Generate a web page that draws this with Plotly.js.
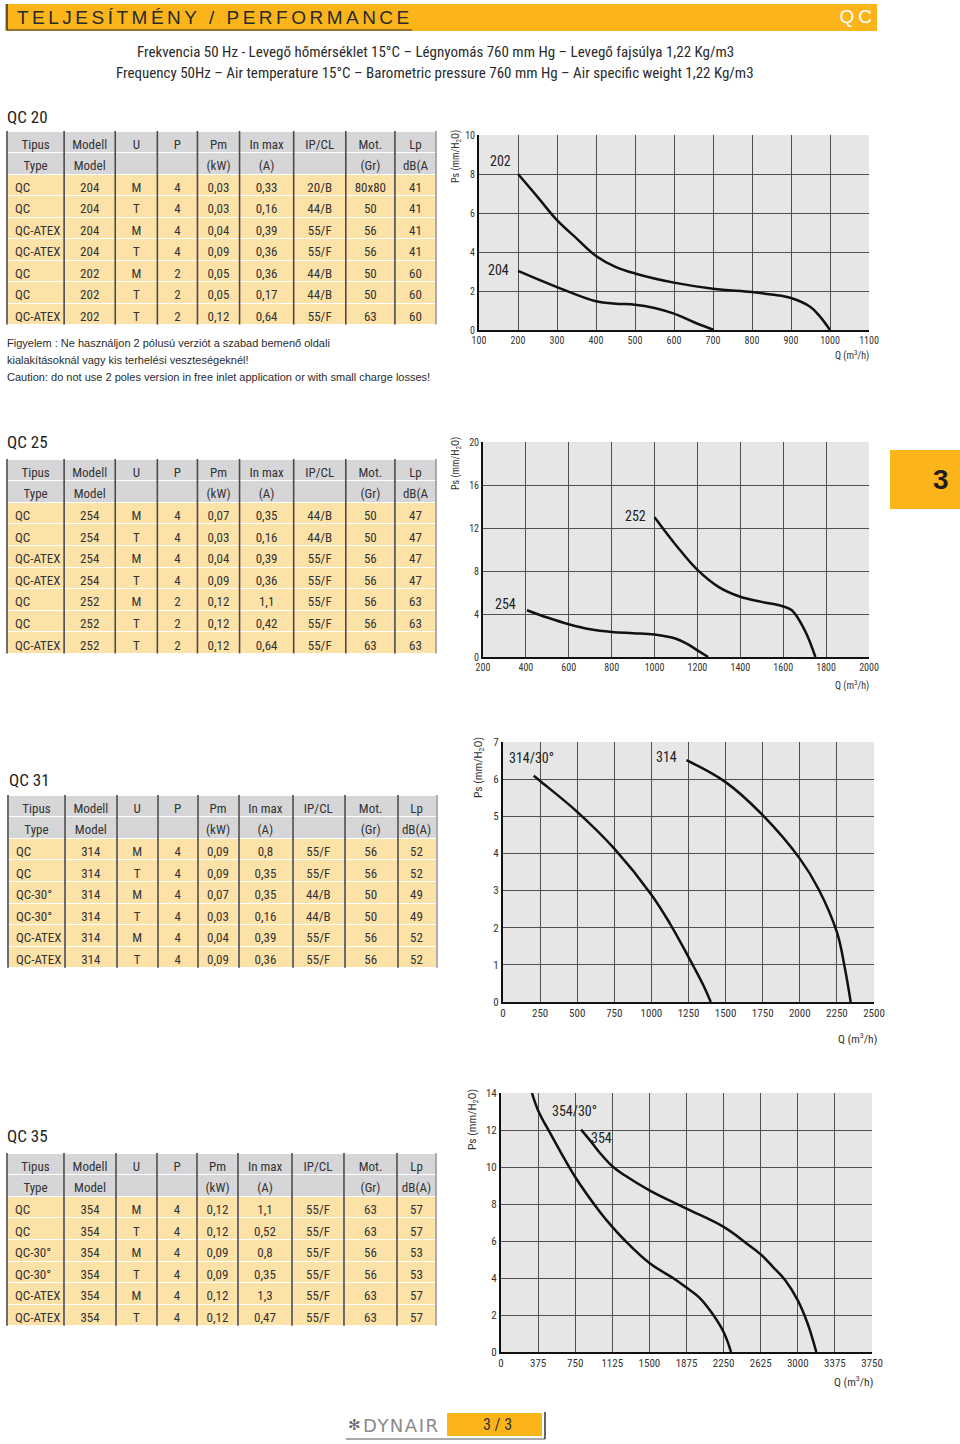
<!DOCTYPE html>
<html><head><meta charset="utf-8">
<script src="https://cdn.plot.ly/plotly-3.0.1.min.js"></script>
<style>
html,body{margin:0;padding:0;background:#fff;}
.annotation[data-index="0"] text{letter-spacing:3.5px;}
.annotation[data-index="1"] text{letter-spacing:4px;}
.annotation[data-index="29"] text{letter-spacing:1.5px;}
</style>
</head><body>
<div id="chart" style="width:960px;height:1444px;"></div>
<script>
// ---------- data ----------
const headTop = ["Tipus","Modell","U","P","Pm","In max","IP/CL","Mot.","Lp"];
const headBotA = ["Type","Model","","","(kW)","(A)","","(Gr)","dB(A"];
const headBotB = ["Type","Model","","","(kW)","(A)","","(Gr)","dB(A)"];

const rowsQC20 = [
 ["QC","204","M","4","0,03","0,33","20/B","80x80","41"],
 ["QC","204","T","4","0,03","0,16","44/B","50","41"],
 ["QC-ATEX","204","M","4","0,04","0,39","55/F","56","41"],
 ["QC-ATEX","204","T","4","0,09","0,36","55/F","56","41"],
 ["QC","202","M","2","0,05","0,36","44/B","50","60"],
 ["QC","202","T","2","0,05","0,17","44/B","50","60"],
 ["QC-ATEX","202","T","2","0,12","0,64","55/F","63","60"]
];
const rowsQC25 = [
 ["QC","254","M","4","0,07","0,35","44/B","50","47"],
 ["QC","254","T","4","0,03","0,16","44/B","50","47"],
 ["QC-ATEX","254","M","4","0,04","0,39","55/F","56","47"],
 ["QC-ATEX","254","T","4","0,09","0,36","55/F","56","47"],
 ["QC","252","M","2","0,12","1,1","55/F","56","63"],
 ["QC","252","T","2","0,12","0,42","55/F","56","63"],
 ["QC-ATEX","252","T","2","0,12","0,64","55/F","63","63"]
];
const rowsQC31 = [
 ["QC","314","M","4","0,09","0,8","55/F","56","52"],
 ["QC","314","T","4","0,09","0,35","55/F","56","52"],
 ["QC-30°","314","M","4","0,07","0,35","44/B","50","49"],
 ["QC-30°","314","T","4","0,03","0,16","44/B","50","49"],
 ["QC-ATEX","314","M","4","0,04","0,39","55/F","56","52"],
 ["QC-ATEX","314","T","4","0,09","0,36","55/F","56","52"]
];
const rowsQC35 = [
 ["QC","354","M","4","0,12","1,1","55/F","63","57"],
 ["QC","354","T","4","0,12","0,52","55/F","63","57"],
 ["QC-30°","354","M","4","0,09","0,8","55/F","56","53"],
 ["QC-30°","354","T","4","0,09","0,35","55/F","56","53"],
 ["QC-ATEX","354","M","4","0,12","1,3","55/F","63","57"],
 ["QC-ATEX","354","T","4","0,12","0,47","55/F","63","57"]
];

// performance curves (Q m3/h, Ps mmH2O)
const q202  = [200,250,300,350,400,450,500,600,700,800,850,900,950,975,1000];
const ps202 = [8.0,6.83,5.63,4.7,3.8,3.24,2.9,2.43,2.12,1.95,1.82,1.64,1.18,0.67,0];
const q204  = [200,300,400,450,500,550,600,650,702];
const ps204 = [3.03,2.2,1.47,1.35,1.3,1.13,0.84,0.41,0];

const q252  = [1000,1100,1200,1300,1400,1500,1600,1640,1700,1750];
const ps252 = [13,10.4,8.1,6.5,5.6,5.13,4.7,4.35,2.5,0];
const q254  = [405,500,600,700,800,900,1000,1100,1150,1200,1250];
const ps254 = [4.35,3.67,3.05,2.58,2.33,2.22,2.1,1.7,1.24,0.62,0];

const q314_30  = [207,250,500,750,1000,1125,1250,1350,1400];
const ps314_30 = [6.09,5.95,5.12,4.13,2.89,2.11,1.21,0.45,0];
const q314  = [1236,1500,1750,2000,2125,2250,2300,2343];
const ps314 = [6.51,5.92,5.03,3.86,3.05,1.88,0.99,0];

const q354_30  = [313,375,500,750,1000,1125,1250,1500,1750,1875,2000,2125,2250,2325];
const ps354_30 = [14,13.06,11.8,9.46,7.57,6.76,6.04,4.81,3.96,3.48,2.97,2.16,1.08,0];
const q354  = [809,900,1000,1125,1250,1500,1875,2250,2500,2625,2750,2875,3000,3100,3187];
const ps354 = [12.02,11.44,10.76,10.04,9.55,8.74,7.75,6.76,5.8,5.28,4.59,3.87,2.79,1.53,0];

const ticks1x = [100,200,300,400,500,600,700,800,900,1000,1100];
const ticks1y = [0,2,4,6,8,10];
const ticks2x = [200,400,600,800,1000,1200,1400,1600,1800,2000];
const ticks2y = [0,4,8,12,16,20];
const ticks3x = [0,250,500,750,1000,1250,1500,1750,2000,2250,2500];
const ticks3y = [0,1,2,3,4,5,6,7];
const ticks4x = [0,375,750,1125,1500,1875,2250,2625,3000,3375,3750];
const ticks4y = [0,2,4,6,8,10,12,14];

// ---------- helpers ----------
const W = 960, H = 1444;
const fx = p => p / W;
const fy = p => 1 - p / H;
const NARROW = "'Liberation Sans Narrow','Arial Narrow','Roboto Condensed','DejaVu Sans Condensed',sans-serif";
const SANS = "'Liberation Sans',Arial,sans-serif";
const TXT = '#2b2b2b';
const YELLOW = '#fbb51b';

const traces = [];
const shapes = [];
const annotations = [];

function ann(o){ annotations.push(Object.assign({showarrow:false, xref:'paper', yref:'paper'}, o)); }

// header bar
shapes.push({type:'rect', xref:'paper', yref:'paper', x0:fx(5), x1:fx(877), y0:fy(31), y1:fy(4), fillcolor:YELLOW, line:{width:0}, layer:'below'});
shapes.push({type:'line', xref:'paper', yref:'paper', x0:fx(7), x1:fx(7), y0:fy(30), y1:fy(4), line:{color:'#333', width:1.5}});
shapes.push({type:'line', xref:'paper', yref:'paper', x0:fx(7), x1:fx(412), y0:fy(30), y1:fy(30), line:{color:'#333', width:1}});
ann({text:'TELJESÍTMÉNY / PERFORMANCE', x:fx(15), y:fy(18), xanchor:'left', yanchor:'middle', width:420, align:'left', font:{family:SANS, size:19, color:'#2a2a2a'}});
ann({text:'QC', x:fx(878), y:fy(16), xanchor:'right', yanchor:'middle', width:50, align:'right', font:{family:SANS, size:19, color:'#ffffff'}});

ann({text:'Frekvencia 50 Hz - Levegő hőmérséklet 15°C – Légnyomás 760 mm Hg – Levegő fajsúlya 1,22 Kg/m3', x:fx(435), y:fy(52), xanchor:'center', yanchor:'middle', font:{family:NARROW, size:15, color:TXT}});
ann({text:'Frequency 50Hz – Air temperature 15°C – Barometric pressure 760 mm Hg – Air specific weight 1,22 Kg/m3', x:fx(435), y:fy(73), xanchor:'center', yanchor:'middle', font:{family:NARROW, size:15, color:TXT}});

// section titles
ann({text:'QC 20', x:fx(5), y:fy(117), xanchor:'left', yanchor:'middle', font:{family:NARROW, size:17, color:'#222'}});
ann({text:'QC 25', x:fx(5), y:fy(442), xanchor:'left', yanchor:'middle', font:{family:NARROW, size:17, color:'#222'}});
ann({text:'QC 31', x:fx(7), y:fy(780), xanchor:'left', yanchor:'middle', font:{family:NARROW, size:17, color:'#222'}});
ann({text:'QC 35', x:fx(5), y:fy(1136), xanchor:'left', yanchor:'middle', font:{family:NARROW, size:17, color:'#222'}});

// notes
ann({text:'Figyelem : Ne használjon 2 pólusú verziót a szabad bemenő oldali', x:fx(5), y:fy(343), xanchor:'left', yanchor:'middle', font:{family:SANS, size:11, color:TXT}});
ann({text:'kialakításoknál vagy kis terhelési veszteségeknél!', x:fx(5), y:fy(360), xanchor:'left', yanchor:'middle', font:{family:SANS, size:11, color:TXT}});
ann({text:'Caution: do not use 2 poles version in free inlet application or with small charge losses!', x:fx(5), y:fy(377), xanchor:'left', yanchor:'middle', font:{family:SANS, size:11, color:TXT}});

// ---------- tables ----------
function addTable(rows, headBot, left, right, top, rowH, colW){
  const ncol = headTop.length;
  const cols = [];
  for(let c=0;c<ncol;c++) cols.push(rows.map(r=>r[c]));
  const header = [];
  for(let c=0;c<ncol;c++) header.push([headTop[c], headBot[c]]);
  const nRows = rows.length + 2;
  const bottom = top + nRows*rowH;
  traces.push({
    type:'table',
    domain:{x:[fx(left), fx(right)], y:[fy(bottom+8), fy(top)]},
    columnwidth: colW,
    header:{values:header, height:rowH, align:'center',
      fill:{color:'#d6d6d8'}, line:{color:'#ffffff', width:1},
      font:{family:NARROW, size:13, color:'#333'}},
    cells:{values:cols, height:rowH, align:['left','center','center','center','center','center','center','center','center'],
      fill:{color:'#fde2a8'}, line:{color:'#ffffff', width:1},
      font:{family:NARROW, size:13, color:'#333'}}
  });
  const tot = colW.reduce((a,b)=>a+b,0);
  let acc = 0;
  const xs = [left];
  for(let c=0;c<ncol;c++){ acc += colW[c]; xs.push(left + (right-left)*acc/tot); }
  xs.forEach((x,i)=>{
    shapes.push({type:'line', xref:'paper', yref:'paper', x0:fx(x), x1:fx(x), y0:fy(bottom), y1:fy(top),
      line:{color:(i===xs.length-1)?'#9a9a9a':'#4a4a4a', width:1.6}});
  });
}
const colWA = [57,51,42,40,42,54,52,49,41];
const colWB = [57,52,41,40,41,54,52,53,39];
addTable(rowsQC20, headBotA, 7, 436, 131, 21.5, colWA);
addTable(rowsQC25, headBotA, 7, 436, 459, 21.6, colWA);
addTable(rowsQC31, headBotB, 8, 437, 795, 21.6, colWB);
addTable(rowsQC35, headBotB, 7, 436, 1153, 21.6, colWB);

// ---------- charts ----------
const LINE = {color:'#111', width:2.5, shape:'spline', smoothing:1.1};
function addCurve(x, y, n){
  traces.push({type:'scatter', mode:'lines', x:x, y:y, xaxis:'x'+(n>1?n:''), yaxis:'y'+(n>1?n:''), line:LINE, hoverinfo:'skip', showlegend:false, cliponaxis:false});
}
addCurve(q202, ps202, 1); addCurve(q204, ps204, 1);
addCurve(q252, ps252, 2); addCurve(q254, ps254, 2);
addCurve(q314_30, ps314_30, 3); addCurve(q314, ps314, 3);
addCurve(q354_30, ps354_30, 4); addCurve(q354, ps354, 4);

function xax(dom, anchor, range, tv, fs){
  return {domain:[fx(dom[0]), fx(dom[1])], anchor:anchor, range:range, tickvals:tv, ticktext:tv.map(String),
    showgrid:true, gridcolor:'#505050', gridwidth:1, showline:true, linecolor:'#111', linewidth:2,
    zeroline:false, ticks:'', ticklen:0, tickfont:{family:NARROW, size:fs, color:'#333'}, fixedrange:true};
}
function yax(dom, anchor, range, tv, fs){
  return {domain:[fy(dom[1]), fy(dom[0])], anchor:anchor, range:range, tickvals:tv, ticktext:tv.map(String),
    showgrid:true, gridcolor:'#505050', gridwidth:1, showline:true, linecolor:'#111', linewidth:2,
    zeroline:false, ticks:'', ticklen:0, tickfont:{family:NARROW, size:fs, color:'#333'}, fixedrange:true};
}

function chartLabels(n, ytX, ytY, xtX, xtY, fs){
  ann({text:'Ps (mm/H<sub>2</sub>O)', x:fx(ytX), y:fy(ytY), textangle:-90, xanchor:'center', yanchor:'middle', font:{family:NARROW, size:fs, color:'#333'}});
  ann({text:'Q (m<sup>3</sup>/h)', x:fx(xtX), y:fy(xtY), xanchor:'center', yanchor:'middle', font:{family:NARROW, size:fs, color:'#333'}});
}
function curveLabel(n, x, y, t){
  annotations.push({text:t, x:x, y:y, xref:'x'+(n>1?n:''), yref:'y'+(n>1?n:''), showarrow:false, xanchor:'center', yanchor:'middle', font:{family:NARROW, size:14, color:'#222'}});
}

chartLabels(1, 456, 157, 852, 356, 10);
chartLabels(2, 456, 464, 852, 685, 10);
chartLabels(3, 478, 768, 857, 1038, 11.5);
chartLabels(4, 472, 1120, 853, 1381, 11.5);

curveLabel(1, 154, 8.67, '202');
curveLabel(1, 150, 3.1, '204');
curveLabel(2, 909, 13.1, '252');
curveLabel(2, 303, 4.93, '254');
curveLabel(3, 195, 6.57, '314/30°');
curveLabel(3, 1105, 6.6, '314');
curveLabel(4, 738, 13.03, '354/30°');
curveLabel(4, 1011, 11.57, '354');

// right tab
shapes.push({type:'rect', xref:'paper', yref:'paper', x0:fx(890), x1:fx(960), y0:fy(509), y1:fy(450), fillcolor:YELLOW, line:{width:0}});
ann({text:'<b>3</b>', x:fx(941), y:fy(480), xanchor:'center', yanchor:'middle', font:{family:SANS, size:28, color:'#1e1e1e'}});

// footer
shapes.push({type:'rect', xref:'paper', yref:'paper', x0:fx(447), x1:fx(542), y0:fy(1436), y1:fy(1413), fillcolor:YELLOW, line:{width:0}});
shapes.push({type:'line', xref:'paper', yref:'paper', x0:fx(346), x1:fx(545), y0:fy(1439), y1:fy(1439), line:{color:'#555', width:1.2}});
shapes.push({type:'line', xref:'paper', yref:'paper', x0:fx(545), x1:fx(545), y0:fy(1439), y1:fy(1412), line:{color:'#333', width:1.5}});
ann({text:'✻', x:fx(354), y:fy(1425), xanchor:'center', yanchor:'middle', font:{family:"'DejaVu Sans',sans-serif", size:15, color:'#666'}});
ann({text:'DYNAIR', x:fx(361), y:fy(1425), xanchor:'left', yanchor:'middle', width:90, align:'left', font:{family:"'DejaVu Sans',sans-serif", size:18, color:'#8a8a8a'}});
ann({text:'3 / 3', x:fx(497), y:fy(1424), xanchor:'center', yanchor:'middle', font:{family:NARROW, size:16, color:'#333'}});

const layout = {
  width:W, height:H, margin:{l:0,r:0,t:0,b:0}, autosize:false,
  paper_bgcolor:'#ffffff', plot_bgcolor:'#e6e6e6', showlegend:false,
  xaxis: xax([479,869], 'y',  [100,1100], ticks1x, 10),
  yaxis: yax([135,330], 'x',  [0,10], ticks1y, 10),
  xaxis2: xax([483,869], 'y2', [200,2000], ticks2x, 10),
  yaxis2: yax([442,657], 'x2', [0,20], ticks2y, 10),
  xaxis3: xax([503,874], 'y3', [0,2500], ticks3x, 11),
  yaxis3: yax([742,1002], 'x3', [0,7], ticks3y, 11),
  xaxis4: xax([501,872], 'y4', [0,3750], ticks4x, 11),
  yaxis4: yax([1093,1352], 'x4', [0,14], ticks4y, 11),
  shapes:shapes, annotations:annotations
};
Plotly.newPlot('chart', traces, layout, {displayModeBar:false, staticPlot:true});
</script>
</body></html>
